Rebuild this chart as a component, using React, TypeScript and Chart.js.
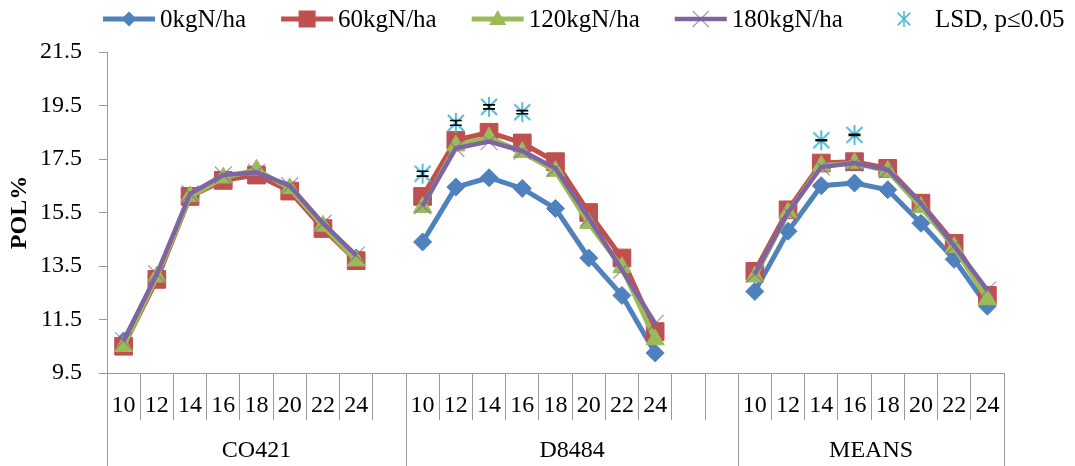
import React, { useEffect, useRef } from 'react';
import { Chart, registerables } from 'chart.js';

Chart.register(...registerables);

const FONT = "'Liberation Serif', 'Times New Roman', serif";

// ---- categories ----
const doseLabels = ['10', '12', '14', '16', '18', '20', '22', '24'];
const groupNames = ['CO421', 'D8484', 'MEANS'];
const groupBlankSlots = [1, 2, 0];

// ---- series values (POL%) ----
const kg0_CO421 = [10.7, 13.1, 16.1, 16.8, 17.0, 16.4, 15.0, 13.8];
const kg60_CO421 = [10.5, 13.0, 16.1, 16.7, 16.9, 16.3, 14.9, 13.7];
const kg120_CO421 = [10.5, 13.1, 16.1, 16.8, 17.1, 16.4, 15.0, 13.7];
const kg180_CO421 = [10.7, 13.2, 16.2, 16.9, 17.0, 16.5, 15.1, 13.9];

const kg0_D8484 = [14.4, 16.45, 16.8, 16.4, 15.65, 13.8, 12.4, 10.25];
const kg60_D8484 = [16.1, 18.2, 18.5, 18.1, 17.4, 15.5, 13.8, 11.05];
const kg120_D8484 = [15.7, 18.0, 18.3, 17.75, 17.05, 15.1, 13.45, 10.75];
const kg180_D8484 = [15.75, 17.9, 18.15, 17.8, 17.15, 15.3, 13.35, 11.35];

const kg0_MEANS = [12.55, 14.8, 16.5, 16.6, 16.35, 15.1, 13.75, 12.0];
const kg60_MEANS = [13.3, 15.6, 17.35, 17.4, 17.15, 15.85, 14.35, 12.4];
const kg120_MEANS = [13.1, 15.5, 17.25, 17.35, 17.05, 15.7, 14.2, 12.25];
const kg180_MEANS = [13.2, 15.5, 17.2, 17.35, 17.1, 15.85, 14.25, 12.6];

// LSD markers and their small error bars
const lsd_CO421 = [null, null, null, null, null, null, null, null];
const lsd_D8484 = [16.95, 18.85, 19.45, 19.25, null, null, null, null];
const lsd_MEANS = [null, null, 18.2, 18.4, null, null, null, null];
const lsdErr_CO421 = [null, null, null, null, null, null, null, null];
const lsdErr_D8484 = [0.09, 0.09, 0.075, 0.06, null, null, null, null];
const lsdErr_MEANS = [null, null, 0.02, 0.02, null, null, null, null];

// ---- y ticks ----
const yMin = 9.5;
const yMax = 21.5;
const yStep = 2;

const seriesLabels = ['0kgN/ha', '60kgN/ha', '120kgN/ha', '180kgN/ha', 'LSD, p\u22640.05'];
const seriesColors = ['#4F81BD', '#C0504D', '#9BBB59', '#8064A2', '#4BB9D6'];

function joinGroups(parts: any[][]): any[] {
  const out: any[] = [];
  parts.forEach((p, gi) => {
    out.push(...p);
    for (let k = 0; k < groupBlankSlots[gi]; k++) out.push(null);
  });
  return out;
}

const categories = joinGroups(groupNames.map(() => doseLabels)).map((v) => (v == null ? '' : v));
const groupSizes = groupNames.map((_, gi) => doseLabels.length + groupBlankSlots[gi]);

const AXIS_COLOR = '#9a9a9a';

function makeStar(color: string, size: number, lw: number) {
  const c = document.createElement('canvas');
  c.width = size;
  c.height = size;
  const g = c.getContext('2d')!;
  g.strokeStyle = color;
  g.lineWidth = lw;
  const m = size / 2;
  const r = size / 2 - 1;
  g.beginPath();
  g.moveTo(m, m - r);
  g.lineTo(m, m + r);
  g.moveTo(m - r * 0.8, m - r * 0.8);
  g.lineTo(m + r * 0.8, m + r * 0.8);
  g.moveTo(m + r * 0.8, m - r * 0.8);
  g.lineTo(m - r * 0.8, m + r * 0.8);
  g.stroke();
  return c;
}

export default function App() {
  const ref = useRef<HTMLCanvasElement | null>(null);

  useEffect(() => {
    document.body.style.margin = '0';
    const canvas = ref.current;
    if (!canvas) return;
    const star = makeStar(seriesColors[4], 22, 1.9);
    const legendStar = makeStar(seriesColors[4], 18, 1.6);

    const lsdData = joinGroups([lsd_CO421, lsd_D8484, lsd_MEANS]);
    const lsdErr = joinGroups([lsdErr_CO421, lsdErr_D8484, lsdErr_MEANS]);

    const markerDefs = [
      { style: 'rectRot', radius: 9 },
      { style: 'rect', radius: 12.5 },
      { style: 'triangle', radius: 10.5 },
      { style: 'crossRot', radius: 12 },
    ];

    const lineSets = [
      [kg0_CO421, kg0_D8484, kg0_MEANS],
      [kg60_CO421, kg60_D8484, kg60_MEANS],
      [kg120_CO421, kg120_D8484, kg120_MEANS],
      [kg180_CO421, kg180_D8484, kg180_MEANS],
    ];

    const datasets: any[] = lineSets.map((parts, i) => ({
      label: seriesLabels[i],
      data: joinGroups(parts),
      borderColor: seriesColors[i],
      backgroundColor: seriesColors[i],
      borderWidth: i === 3 ? 4.5 : 5,
      pointStyle: markerDefs[i].style,
      pointRadius: markerDefs[i].radius,
      pointHoverRadius: markerDefs[i].radius,
      pointBackgroundColor: seriesColors[i],
      pointBorderColor: i === 3 ? 'rgba(128,100,162,0.65)' : seriesColors[i],
      pointBorderWidth: i === 3 ? 1.3 : 1,
      tension: 0,
      spanGaps: false,
      order: 5 - i,
    }));
    datasets.push({
      label: seriesLabels[4],
      data: lsdData,
      showLine: false,
      borderColor: seriesColors[4],
      backgroundColor: seriesColors[4],
      pointStyle: star,
      pointRadius: 11,
      order: 0,
    });

    const lsdIndex = 4;

    const errorBars = {
      id: 'lsdErrorBars',
      afterDatasetsDraw(chart: any) {
        const ctx = chart.ctx;
        const y = chart.scales.y;
        const meta = chart.getDatasetMeta(lsdIndex);
        ctx.save();
        ctx.strokeStyle = '#000';
        ctx.lineWidth = 1.6;
        meta.data.forEach((pt: any, i: number) => {
          const v = lsdData[i];
          const e = lsdErr[i];
          if (v == null || e == null) return;
          const yt = y.getPixelForValue(v + e);
          const yb = y.getPixelForValue(v - e);
          ctx.beginPath();
          ctx.moveTo(pt.x - 6, yt);
          ctx.lineTo(pt.x + 6, yt);
          ctx.moveTo(pt.x - 6, yb);
          ctx.lineTo(pt.x + 6, yb);
          ctx.moveTo(pt.x, yt);
          ctx.lineTo(pt.x, yb);
          ctx.stroke();
        });
        ctx.restore();
      },
    };

    const groupAxis = {
      id: 'groupAxis',
      afterDraw(chart: any) {
        const ctx = chart.ctx;
        const x = chart.scales.x;
        const area = chart.chartArea;
        const slot = x.getPixelForValue(1) - x.getPixelForValue(0);
        ctx.save();
        ctx.strokeStyle = AXIS_COLOR;
        ctx.lineWidth = 1;
        ctx.fillStyle = '#000';
        ctx.font = `24px ${FONT}`;
        ctx.textAlign = 'center';
        ctx.textBaseline = 'middle';
        let start = 0;
        const bounds: number[] = [];
        groupSizes.forEach((n) => {
          bounds.push(x.getPixelForValue(start) - slot / 2);
          start += n;
        });
        bounds.push(x.getPixelForValue(start - 1) + slot / 2);
        bounds.forEach((bx) => {
          const px = Math.round(bx) + 0.5;
          ctx.beginPath();
          ctx.moveTo(px, area.bottom);
          ctx.lineTo(px, chart.height);
          ctx.stroke();
        });
        groupNames.forEach((name, gi) => {
          const cx = (bounds[gi] + bounds[gi + 1]) / 2;
          ctx.fillText(name, cx, 451);
        });
        ctx.restore();
      },
    };

    const legend = {
      id: 'customLegend',
      afterDraw(chart: any) {
        const ctx = chart.ctx;
        ctx.save();
        ctx.font = `25px ${FONT}`;
        ctx.textBaseline = 'middle';
        ctx.textAlign = 'left';
        let lx = 103;
        const ly = 19;
        chart.data.datasets.forEach((ds: any, i: number) => {
          const cx = lx + 26;
          if (i < 4) {
            ctx.strokeStyle = ds.borderColor;
            ctx.lineWidth = ds.borderWidth;
            ctx.beginPath();
            ctx.moveTo(lx, ly);
            ctx.lineTo(lx + 52, ly);
            ctx.stroke();
            ctx.fillStyle = ds.borderColor;
            ctx.strokeStyle = ds.borderColor;
            ctx.lineWidth = 1;
            ctx.beginPath();
            if (i === 0) {
              const r = 7.5;
              ctx.moveTo(cx, ly - r);
              ctx.lineTo(cx + r, ly);
              ctx.lineTo(cx, ly + r);
              ctx.lineTo(cx - r, ly);
              ctx.closePath();
              ctx.fill();
            } else if (i === 1) {
              ctx.rect(cx - 8.5, ly - 8.5, 17, 17);
              ctx.fill();
            } else if (i === 2) {
              ctx.moveTo(cx, ly - 9);
              ctx.lineTo(cx + 8.5, ly + 6);
              ctx.lineTo(cx - 8.5, ly + 6);
              ctx.closePath();
              ctx.fill();
            } else {
              ctx.strokeStyle = 'rgba(128,100,162,0.65)';
              ctx.lineWidth = 1.3;
              ctx.moveTo(cx - 8, ly - 8);
              ctx.lineTo(cx + 8, ly + 8);
              ctx.moveTo(cx + 8, ly - 8);
              ctx.lineTo(cx - 8, ly + 8);
              ctx.stroke();
            }
          } else {
            ctx.drawImage(legendStar, cx - 9, ly - 9);
          }
          ctx.fillStyle = '#000';
          const tx = lx + 57;
          ctx.fillText(ds.label, tx, ly + 1);
          lx = tx + ctx.measureText(ds.label).width + 35;
        });
        ctx.restore();
      },
    };

    const chart = new Chart(canvas, {
      type: 'line',
      data: { labels: categories, datasets },
      options: {
        animation: false,
        responsive: false,
        maintainAspectRatio: false,
        layout: { padding: { top: 52, right: 71, left: 0, bottom: 0 } },
        plugins: {
          legend: { display: false },
          tooltip: { enabled: false },
          title: { display: false },
        },
        scales: {
          x: {
            type: 'category',
            offset: true,
            grid: {
              offset: true,
              drawOnChartArea: false,
              drawTicks: true,
              tickLength: 47,
              color: AXIS_COLOR,
              lineWidth: 1,
            },
            border: { display: true, color: AXIS_COLOR, width: 1 },
            ticks: {
              autoSkip: false,
              maxRotation: 0,
              minRotation: 0,
              color: '#000',
              font: { family: FONT, size: 24 },
              padding: -29,
            },
            afterFit: (s: any) => {
              s.height = 93;
            },
          },
          y: {
            type: 'linear',
            min: yMin,
            max: yMax,
            grid: {
              drawOnChartArea: false,
              drawTicks: true,
              tickLength: 8,
              color: AXIS_COLOR,
              lineWidth: 1,
            },
            border: { display: true, color: AXIS_COLOR, width: 1 },
            ticks: {
              stepSize: yStep,
              color: '#000',
              font: { family: FONT, size: 24 },
              padding: 17,
              callback: (v: any) => Number(v).toFixed(1),
            },
            title: {
              display: true,
              text: 'POL%',
              color: '#000',
              font: { family: FONT, size: 24, weight: 'bold' },
              padding: { top: 5, bottom: 0 },
            },
            afterFit: (s: any) => {
              s.width = 107;
            },
          },
        },
      },
      plugins: [errorBars, groupAxis, legend],
    });

    return () => {
      chart.destroy();
    };
  }, []);

  return (
    <div style={{ width: 1075, height: 466 }}>
      <canvas ref={ref} width={1075} height={466} style={{ display: 'block' }} />
    </div>
  );
}
